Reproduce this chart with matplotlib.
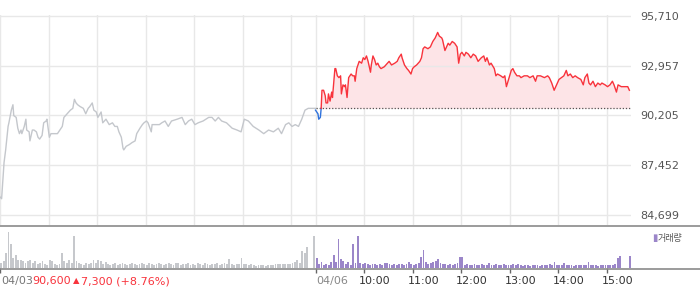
import numpy as np
import matplotlib
matplotlib.use('Agg')
import matplotlib.pyplot as plt
from matplotlib.lines import Line2D
from matplotlib.transforms import blended_transform_factory, offset_copy

# minutes after 09:00, 04/03 session
d1_min = [0, 2, 5, 7, 10, 11, 14, 16, 17, 20, 22, 24, 26, 27, 30, 32, 33, 36, 37, 40,
          42, 45, 47, 49, 52, 54, 57, 58, 61, 63, 67, 71, 74, 77, 79, 83, 87, 90, 92, 94,
          96, 99, 103, 106, 109, 111, 114, 116, 119, 121, 125, 127, 131, 135, 139, 142, 145, 147, 150, 152,
          153, 156, 160, 163, 167, 169, 173, 176, 178, 181, 183, 187, 188, 192, 197, 200, 204, 208, 212, 219,
          225, 229, 233, 237, 241, 245, 251, 258, 262, 266, 270, 274, 280, 287, 293, 298, 302, 307, 313, 320,
          326, 332, 338, 344, 348, 353, 357, 361, 365, 369, 373, 377, 381, 390]
d1_price = [85700, 85600, 87600, 88300, 89600, 89800, 90500, 90800, 90200, 90100,
            89500, 89200, 89400, 89200, 89600, 90000, 89400, 89300, 88800, 89400,
            89400, 89300, 89000, 88900, 89100, 89800, 89900, 90000, 89000, 89200,
            89200, 89200, 89400, 89600, 90100, 90300, 90500, 90600, 91100, 90900,
            90800, 90700, 90600, 90300, 90600, 90700, 90900, 90500, 90400, 90100,
            90400, 89800, 90000, 89700, 89800, 89600, 89600, 89300, 89000, 88400,
            88300, 88500, 88600, 88700, 88800, 89200, 89500, 89700, 89800, 89900,
            89800, 89300, 89700, 89700, 89700, 89800, 89900, 89600, 89900, 90000,
            90100, 89700, 89900, 90000, 89700, 89800, 89900, 90100, 90100, 89900,
            90100, 89900, 89800, 89500, 89400, 89300, 90000, 89900, 89600, 89400,
            89200, 89400, 89300, 89500, 89200, 89700, 89800, 89600, 89700, 89600,
            90000, 90500, 90600, 90600]

# minutes after 09:00, 04/06 session
d2_min = [0, 3, 4, 6, 7, 8, 10, 12, 13, 15, 16, 18, 20, 21, 24, 25, 27, 29, 31, 32,
          34, 36, 37, 39, 41, 44, 46, 48, 49, 51, 54, 57, 59, 61, 63, 65, 68, 69, 71, 73,
          75, 77, 79, 81, 85, 89, 91, 94, 98, 101, 103, 106, 107, 110, 113, 115, 118, 120, 122, 125,
          129, 131, 133, 135, 139, 142, 145, 148, 151, 153, 156, 157, 160, 162, 164, 166, 169, 172, 175, 177,
          179, 181, 184, 186, 189, 192, 195, 198, 201, 205, 208, 210, 212, 215, 217, 221, 223, 225, 229, 232,
          234, 236, 238, 240, 242, 244, 246, 249, 252, 254, 258, 262, 265, 269, 272, 274, 278, 283, 287, 289,
          292, 295, 298, 301, 304, 307, 310, 312, 315, 318, 321, 324, 328, 331, 333, 336, 338, 340, 343, 346,
          349, 352, 354, 358, 361, 364, 367, 369, 372, 374, 378, 382, 386, 388]
d2_price = [90500, 90300, 90000, 90100, 90600, 91600, 91600, 91300, 90900, 90900,
            91400, 91000, 91500, 91200, 92800, 92800, 92400, 92300, 92400, 91400,
            91900, 91800, 91900, 91200, 92300, 92500, 92400, 92400, 92100, 92800,
            93200, 93100, 93400, 93300, 93500, 93200, 92600, 93000, 93500, 93300,
            93000, 93100, 92900, 92800, 92900, 93100, 93200, 93000, 93100, 93200,
            93400, 93600, 93400, 93000, 92800, 92700, 92500, 92800, 92900, 93000,
            93200, 93400, 93900, 94000, 93900, 94000, 94300, 94500, 94800, 94600,
            94500, 94400, 93800, 94000, 94200, 94100, 94300, 94200, 94000, 93100,
            93600, 93700, 93500, 93700, 93600, 93400, 93600, 93500, 93200, 93400,
            93500, 93200, 93400, 93000, 93100, 92800, 92400, 92500, 92400, 92300,
            92400, 91800, 92100, 92400, 92700, 92800, 92600, 92400, 92400, 92300,
            92400, 92400, 92300, 92400, 92100, 92400, 92400, 92300, 92400, 92300,
            92000, 91600, 91900, 92200, 92300, 92400, 92700, 92400, 92500, 92300,
            92400, 92300, 92200, 91900, 92300, 92500, 92000, 91900, 92100, 91800,
            92000, 91900, 92000, 91900, 91800, 91900, 92100, 91900, 91500, 91900,
            91800, 91800, 91800, 91600]

# volume per 3-minute bucket (thousand shares)
d1_vol = [5, 7, 15, 36, 24, 10, 13, 8, 8, 7, 5, 7, 8, 5, 7, 4, 5, 7, 4, 3,
          8, 7, 4, 3, 4, 15, 7, 5, 8, 5, 32, 7, 5, 4, 3, 5, 4, 5, 8, 5,
          8, 7, 4, 6, 4, 3, 4, 5, 3, 4, 5, 4, 3, 4, 5, 4, 3, 4, 5, 4,
          3, 5, 4, 3, 4, 5, 4, 3, 4, 5, 4, 3, 5, 5, 3, 4, 4, 5, 3, 4,
          3, 5, 4, 3, 5, 4, 3, 4, 4, 5, 3, 4, 5, 4, 9, 4, 3, 4, 4, 10,
          4, 4, 3, 4, 3, 2, 3, 3, 3, 2, 3, 3, 3, 4, 4, 4, 4, 4, 4, 4,
          5, 6, 8, 5, 17, 15, 21, 0, 0, 32]
d2_vol = [10, 4, 6, 3, 4, 3, 6, 13, 6, 29, 9, 7, 4, 6, 3, 24, 5, 32, 5, 4,
          5, 4, 3, 4, 4, 3, 4, 3, 5, 5, 4, 3, 4, 3, 4, 4, 3, 4, 6, 4,
          3, 4, 5, 11, 18, 6, 4, 5, 6, 7, 9, 5, 4, 4, 3, 4, 3, 4, 5, 11,
          11, 3, 4, 3, 3, 4, 3, 3, 4, 3, 3, 5, 3, 3, 4, 3, 3, 4, 3, 3,
          3, 4, 3, 4, 3, 2, 3, 3, 2, 3, 3, 3, 2, 3, 3, 3, 4, 3, 6, 3,
          3, 3, 5, 3, 3, 3, 2, 3, 3, 3, 3, 3, 6, 3, 3, 3, 2, 3, 3, 3,
          3, 3, 3, 4, 10, 12, 0, 0, 0, 12]

prev_close = 90600
change = 7300
change_pct = 8.76
y_ticks = [84699, 87452, 90205, 92957, 95710]
day_labels = ['04/03', '04/06']
hour_labels = ['10:00', '11:00', '12:00', '13:00', '14:00', '15:00']
vol_label = '거래량'

plt.rcParams['font.family'] = ['DejaVu Sans', 'Noto Sans CJK KR']

RED = '#f8333c'
BLUE = '#2f72dc'
GRAY_LINE = '#c4c7cc'
GRAY_VOL = '#c6c8cc'
PURPLE = '#9b86c9'
GRID = '#e8e8e8'

W, H = 700, 289
SESSION = 390
BUCKET = 3

fig = plt.figure(figsize=(W / 100, H / 100), dpi=100)


def px_box(x0, y0, x1, y1):
    return [x0 / W, 1 - y1 / H, (x1 - x0) / W, (y1 - y0) / H]


ax = fig.add_axes(px_box(0, 15, 631, 225))
axv = fig.add_axes(px_box(0, 226, 631, 268))

x1 = np.array(d1_min)
x2 = np.array(d2_min) + SESSION
p1 = np.array(d1_price)
p2 = np.array(d2_price)

# price panel
step = y_ticks[1] - y_ticks[0]
ax.set_xlim(0, 2 * SESSION)
ax.set_ylim(y_ticks[0] - step * 10 / 49.75, y_ticks[-1] + step / 49.75)
ax.set_yticks(y_ticks)
ax.set_yticklabels([f'{v:,}' for v in y_ticks])
ax.yaxis.tick_right()
ax.tick_params(axis='y', length=0, pad=6.5, labelsize=8, labelcolor='#555555')
ax.set_xticks([])
for s in ax.spines.values():
    s.set_visible(False)
ax.grid(axis='y', color=GRID, lw=1)
hour_grid = list(range(0, SESSION, 60)) + list(range(SESSION, 2 * SESSION, 60))
for g in hour_grid:
    ax.axvline(g, color=GRID, lw=1, zorder=0)

ax.plot(x1, p1, color=GRAY_LINE, lw=1)

ax.fill_between(x2, p2, prev_close, where=p2 >= prev_close, interpolate=True,
                color='#fde4e7', lw=0)
ax.plot([SESSION, 2 * SESSION], [prev_close, prev_close], color='#555555',
        lw=0.9, ls=(0, (1, 1.5)))

last_below = np.where(p2 < prev_close)[0].max()
ax.plot(x2[:last_below + 2], p2[:last_below + 2], color=BLUE, lw=1)
ax.plot(x2[last_below + 1:], p2[last_below + 1:], color=RED, lw=1)

# volume panel
c1 = np.arange(len(d1_vol)) * BUCKET + BUCKET / 2
c2 = np.arange(len(d2_vol)) * BUCKET + BUCKET / 2 + SESSION
axv.bar(c1, d1_vol, width=2.3, color=GRAY_VOL, lw=0)
axv.bar(c2, d2_vol, width=2.3, color=PURPLE, lw=0)
axv.set_xlim(0, 2 * SESSION)
axv.set_ylim(0, 42)
for s in axv.spines.values():
    s.set_visible(False)
axv.set_yticks([])
tick_pos = [0, SESSION] + [SESSION + 60 * (i + 1) for i in range(len(hour_labels))]
axv.set_xticks(tick_pos)
axv.set_xticklabels([])
axv.tick_params(axis='x', length=3.6, width=1, color='#666666')

# separator lines across the full width
for yy in (225.5, 268.5):
    fig.add_artist(Line2D([0, 1], [1 - yy / H] * 2, color='#8a8a8a', lw=1.2,
                          transform=fig.transFigure))

# bottom labels
trans = blended_transform_factory(axv.transData, fig.transFigure)
ylab = 1 - 281 / H
axv.text(0, ylab, day_labels[0], transform=offset_copy(trans, fig=fig, x=1, units='dots'),
         ha='left', va='center', fontsize=8, color='#777777')
axv.text(0, ylab, f'{prev_close:,}', transform=offset_copy(trans, fig=fig, x=32, units='dots'),
         ha='left', va='center', fontsize=8, color=RED)
axv.text(0, ylab, '▲', transform=offset_copy(trans, fig=fig, x=73, units='dots'),
         ha='left', va='center', fontsize=6, color=RED)
axv.text(0, ylab, f'{change:,} (+{change_pct:.2f}%)',
         transform=offset_copy(trans, fig=fig, x=81, units='dots'),
         ha='left', va='center', fontsize=8, color=RED)
axv.text(SESSION, ylab, day_labels[1], transform=offset_copy(trans, fig=fig, x=1, units='dots'),
         ha='left', va='center', fontsize=8, color='#888888')
for i, lab in enumerate(hour_labels):
    axv.text(SESSION + 60 * (i + 1), ylab, lab,
             transform=offset_copy(trans, fig=fig, x=-5, units='dots'),
             ha='left', va='center', fontsize=8, color='#333333')

# volume legend
fig.text(652 / W, 1 - 238.5 / H, '▮', fontsize=7, color=PURPLE, ha='left', va='center')
fig.text(658 / W, 1 - 238.5 / H, vol_label, fontsize=6.5, color='#555555', ha='left', va='center')

fig.savefig('out.png', dpi=100)
